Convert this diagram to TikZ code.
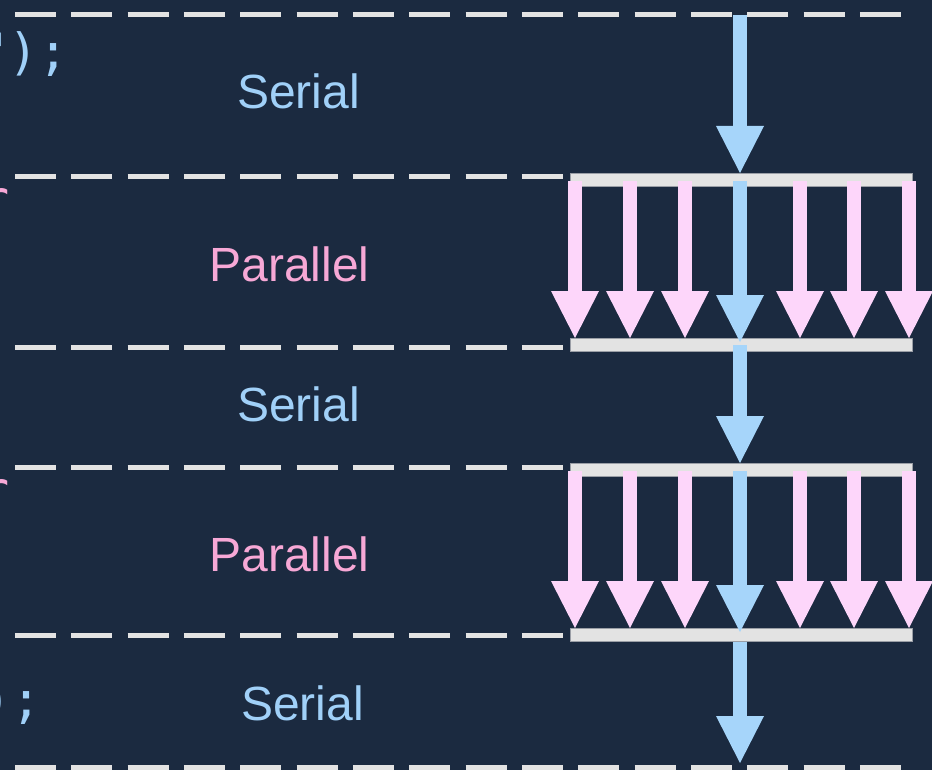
\documentclass[tikz,border=0pt]{standalone}
\usepackage{fontspec}
\setmainfont{Liberation Sans}
\newfontfamily\codefont{DejaVu Sans Mono}
\usetikzlibrary{arrows.meta}
\definecolor{bg}{HTML}{1B2A40}
\definecolor{barcol}{HTML}{E3E3E3}
\definecolor{baredge}{HTML}{9A9EA6}
\definecolor{arrblue}{HTML}{A6D5FA}
\definecolor{arrpink}{HTML}{FDD6FA}
\definecolor{txtblue}{HTML}{A0D0F8}
\definecolor{txtpink}{HTML}{F7A8D6}
\tikzset{
  dashline/.style={draw=barcol, line width=5pt, dash pattern=on 41pt off 15.33pt},
  barbox/.style={draw=baredge, line width=0.6pt, fill=barcol, minimum width=342pt, minimum height=13pt, inner sep=0pt, outer sep=0pt},
  blockarrow/.style={line width=14pt, -{Triangle[width=48pt,length=47pt,line width=0pt]}},
  barrow/.style={blockarrow, draw=arrblue},
  parrow/.style={blockarrow, draw=arrpink},
  lbl/.style={font=\fontsize{48}{48}\selectfont, inner sep=0pt, anchor=base},
  code/.style={font=\codefont\fontsize{50}{50}\selectfont, inner sep=0pt},
}
\begin{document}
\begin{tikzpicture}[x=1pt,y=-1pt]
\fill[bg] (0,0) rectangle (932,770);
\useasboundingbox (0,0) rectangle (932,770);
\clip (0,0) rectangle (932,770);

% code fragments at left edge (tails of longer code lines)
\node[code, anchor=base west, text=txtblue] (c1) at (-20.8,70) {"\kern-1.5pt);};
\node[code, anchor=base east, text=txtpink] (c2) at (9.6,217) {for};
\node[code, anchor=base east, text=txtpink] (c3) at (9.6,507) {for};
\node[code, anchor=base west, text=txtblue] (c4) at (-19,717) {);};

% dashed separators
\draw[dashline] (15,15) -- (901,15);
\draw[dashline] (15,177) -- (563,177);
\draw[dashline] (15,347) -- (563,347);
\draw[dashline] (15,467) -- (563,467);
\draw[dashline] (15,635) -- (563,635);
\draw[dashline] (15,767) -- (901,767);

% bars
\node[barbox] (b1t) at (741,179.5) {};
\node[barbox] (b1b) at (741,345) {};
\node[barbox] (b2t) at (741,469.5) {};
\node[barbox] (b2b) at (741,635) {};

% serial arrows
\coordinate (s1a) at (740,15);
\coordinate (s1b) at (740,173);
\coordinate (s2a) at (740,345);
\coordinate (s2b) at (740,463);
\coordinate (s3a) at (740,642);
\coordinate (s3b) at (740,763);
\draw[barrow] (s1a) -- (s1b);
\draw[barrow] (s2a) -- (s2b);
\draw[barrow] (s3a) -- (s3b);

% parallel arrows
\foreach \blk/\dy in {1/0, 2/290}{
  \foreach \xx [count=\i] in {575,630,685,800,854,909}{
    \coordinate (p\blk a\i) at (\xx,181+\dy);
    \coordinate (p\blk b\i) at (\xx,338+\dy);
    \draw[parrow] (p\blk a\i) -- (p\blk b\i);
  }
  \coordinate (q\blk a) at (740,181+\dy);
  \coordinate (q\blk b) at (740,342+\dy);
  \draw[barrow] (q\blk a) -- (q\blk b);
}

% labels
\node[lbl, text=txtblue] (l1) at (298.5,109) {Serial};
\node[lbl, text=txtpink] (l2) at (289.5,281) {Parallel};
\node[lbl, text=txtblue] (l3) at (298.5,421) {Serial};
\node[lbl, text=txtpink] (l4) at (289.5,571) {Parallel};
\node[lbl, text=txtblue] (l5) at (302.5,720) {Serial};
\end{tikzpicture}
\end{document}
